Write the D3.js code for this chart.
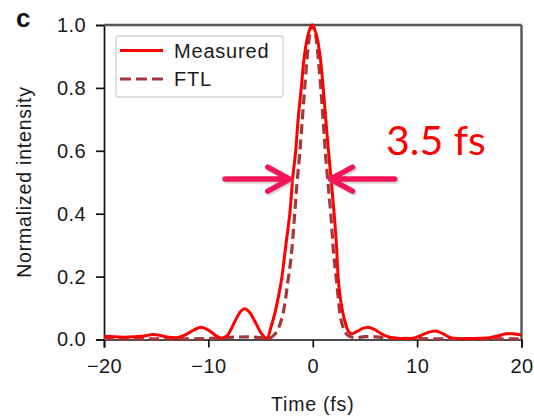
<!DOCTYPE html>
<html>
<head>
<meta charset="utf-8">
<script src="https://cdn.jsdelivr.net/npm/d3@7"></script>
<style>
  html, body { margin: 0; padding: 0; background: #fff; }
  svg { display: block; font-family: "Liberation Sans", Arial, sans-serif; }
</style>
</head>
<body>
<svg id="chart" width="534" height="420"></svg>
<script>
// time axis (fs) and normalized intensity
const timeMeasured = [-20,-19,-18,-17,-16,-15.3,-14.5,-13.8,-13,-12.2,-11.4,-10.7,-10,-9.3,-8.75,-8.2,-7.5,-6.9,-6.5,-6.1,-5.5,-4.9,-4.4,-4.0,-3.64,-3.3,-3.0,-2.6,-2.2,-1.9,-1.66,-1.4,-1.1,-0.77,-0.4,-0.07,0.3,0.67,1.0,1.25,1.53,1.73,2.05,2.27,2.45,2.65,2.9,3.15,3.4,3.7,4.2,4.7,5.3,5.9,6.6,7.3,8,8.8,9.6,10.3,11,11.8,12.5,13.2,14,15,16,17,17.8,18.5,19.2,20];
const measured = [0.010,0.009,0.007,0.009,0.012,0.016,0.012,0.007,0.006,0.015,0.030,0.039,0.030,0.013,0.004,0.012,0.055,0.090,0.098,0.088,0.055,0.018,0.003,0.040,0.082,0.135,0.188,0.294,0.40,0.52,0.59,0.70,0.80,0.91,0.975,1.0,0.975,0.91,0.80,0.70,0.59,0.52,0.40,0.30,0.19,0.13,0.082,0.05,0.027,0.018,0.025,0.034,0.039,0.032,0.018,0.008,0.004,0.003,0.004,0.012,0.022,0.027,0.018,0.006,0.003,0.003,0.004,0.006,0.012,0.018,0.018,0.014];

const timeFtl = [-20,-15,-12,-10,-9,-8,-7,-6,-5,-4.5,-4,-3.6,-3.3,-3.05,-2.85,-2.6,-2.37,-2.15,-1.98,-1.73,-1.5,-1.25,-1.0,-0.77,-0.5,-0.25,0,0.25,0.45,0.77,0.99,1.22,1.48,1.73,1.95,2.1,2.27,2.45,2.6,2.8,3.0,3.3,3.7,4.2,5,5.8,6.8,8,9.5,12,16,20];
const ftl = [0.002,0.002,0.002,0.003,0.005,0.007,0.008,0.008,0.006,0.004,0.006,0.018,0.035,0.058,0.082,0.13,0.188,0.24,0.294,0.40,0.50,0.59,0.70,0.80,0.91,0.975,1.0,0.975,0.92,0.80,0.70,0.59,0.49,0.40,0.294,0.24,0.188,0.13,0.082,0.05,0.03,0.015,0.008,0.006,0.009,0.009,0.006,0.004,0.003,0.002,0.002,0.002];

const xTicks = [-20, -10, 0, 10, 20];
const yTicks = [0, 0.2, 0.4, 0.6, 0.8, 1.0];
const seriesNames = ["Measured", "FTL"];
const fwhmLabel = "3.5 fs";

const svg = d3.select("#chart");
const x = d3.scaleLinear().domain([-20, 20]).range([104, 521.5]);
const y = d3.scaleLinear().domain([0, 1]).range([339.5, 25]);

const fmtMinus = d => (d < 0 ? "\u2212" + Math.abs(d) : String(d));

// axes
const xAxis = svg.append("g")
  .attr("transform", `translate(0,${y(0)})`)
  .call(d3.axisBottom(x).tickValues(xTicks).tickSize(8).tickPadding(11).tickFormat(fmtMinus));
const yAxis = svg.append("g")
  .attr("transform", `translate(${x(-20)},0)`)
  .call(d3.axisLeft(y).tickValues(yTicks).tickSize(8).tickPadding(10).tickFormat(d3.format(".1f")));

[xAxis, yAxis].forEach(g => {
  g.select(".domain").attr("stroke", "#111").attr("stroke-width", 1.7);
  g.selectAll(".tick line").attr("stroke", "#111").attr("stroke-width", 1.7);
  g.selectAll(".tick text").attr("font-size", 20).attr("fill", "#1a1a1a")
    .attr("font-family", "Liberation Sans, Arial, sans-serif").style("letter-spacing", "0.4px");
});

// top and right frame
svg.append("line").attr("x1", x(-20)).attr("x2", x(20)).attr("y1", y(1)).attr("y2", y(1))
  .attr("stroke", "#555").attr("stroke-width", 2.6);
svg.append("line").attr("x1", x(20)).attr("x2", x(20)).attr("y1", y(1)).attr("y2", y(0))
  .attr("stroke", "#555").attr("stroke-width", 2.4);

// curves
const line = d3.line().x(d => x(d[0])).y(d => y(d[1])).curve(d3.curveCatmullRom.alpha(0.5));

svg.append("path")
  .datum(d3.zip(timeFtl, ftl))
  .attr("d", line)
  .attr("fill", "none")
  .attr("stroke", "#a23a3c")
  .attr("stroke-width", 3.2)
  .attr("stroke-dasharray", "10,5");

svg.append("path")
  .datum(d3.zip(timeMeasured, measured))
  .attr("d", line)
  .attr("fill", "none")
  .attr("stroke", "#ff0000")
  .attr("stroke-width", 3);

// legend
const legend = svg.append("g");
legend.append("rect")
  .attr("x", 116).attr("y", 36).attr("width", 167).attr("height", 61).attr("rx", 3)
  .attr("fill", "#fff").attr("stroke", "#d4d4d4").attr("stroke-width", 1.4);
const legStyles = [
  { color: "#ff0000", dash: null, w: 3 },
  { color: "#a23a3c", dash: "11,5", w: 3.2 }
];
seriesNames.forEach((name, i) => {
  const ly = 50.5 + i * 28.5;
  legend.append("line")
    .attr("x1", 120).attr("x2", 163).attr("y1", ly).attr("y2", ly)
    .attr("stroke", legStyles[i].color).attr("stroke-width", legStyles[i].w)
    .attr("stroke-dasharray", legStyles[i].dash);
  legend.append("text")
    .attr("x", 174).attr("y", ly + 7)
    .attr("font-size", 20).attr("fill", "#1a1a1a").style("letter-spacing", "0.8px")
    .text(name);
});

// axis titles
svg.append("text")
  .attr("x", x(0)).attr("y", 411)
  .attr("text-anchor", "middle").attr("font-size", 19.5).attr("fill", "#1a1a1a")
  .style("letter-spacing", "0.8px")
  .text("Time (fs)");
svg.append("text")
  .attr("transform", "translate(31,182) rotate(-90)")
  .attr("text-anchor", "middle").attr("font-size", 19.5).attr("fill", "#1a1a1a")
  .style("letter-spacing", "0.8px")
  .text("Normalized intensity");

// panel letter
svg.append("text")
  .attr("x", 16).attr("y", 27)
  .attr("font-size", 26).attr("font-weight", "bold").attr("fill", "#111")
  .text("c");

// FWHM arrows
const arrowColor = "#f2155a";
const arrowY = y(0.51);
const arrows = [
  { from: -8.4, to: -2.2 },
  { from: 7.85, to: 1.7 }
];
function drawArrow(g, a, dx, dy, color, op) {
  const x0 = x(a.from) + dx, x1 = x(a.to) + dx, yy = arrowY + dy;
  const dir = x1 > x0 ? 1 : -1;
  g.append("path")
    .attr("d", `M${x0},${yy}L${x1},${yy}M${x1 - dir * 22},${yy - 12}L${x1},${yy}L${x1 - dir * 22},${yy + 12}`)
    .attr("fill", "none").attr("stroke", color).attr("stroke-width", 5.5)
    .attr("stroke-linecap", "round").attr("stroke-linejoin", "round")
    .attr("opacity", op);
}
const arrowG = svg.append("g");
arrows.forEach(a => drawArrow(arrowG, a, 1.5, 2, "#999", 0.35));
arrows.forEach(a => drawArrow(arrowG, a, 0, 0, arrowColor, 1));

svg.append("text")
  .attr("x", 386).attr("y", 155)
  .attr("font-family", "Lato, 'Open Sans', sans-serif")
  .attr("font-size", 41).attr("fill", "#ff0000")
  .text(fwhmLabel);
</script>
</body>
</html>
